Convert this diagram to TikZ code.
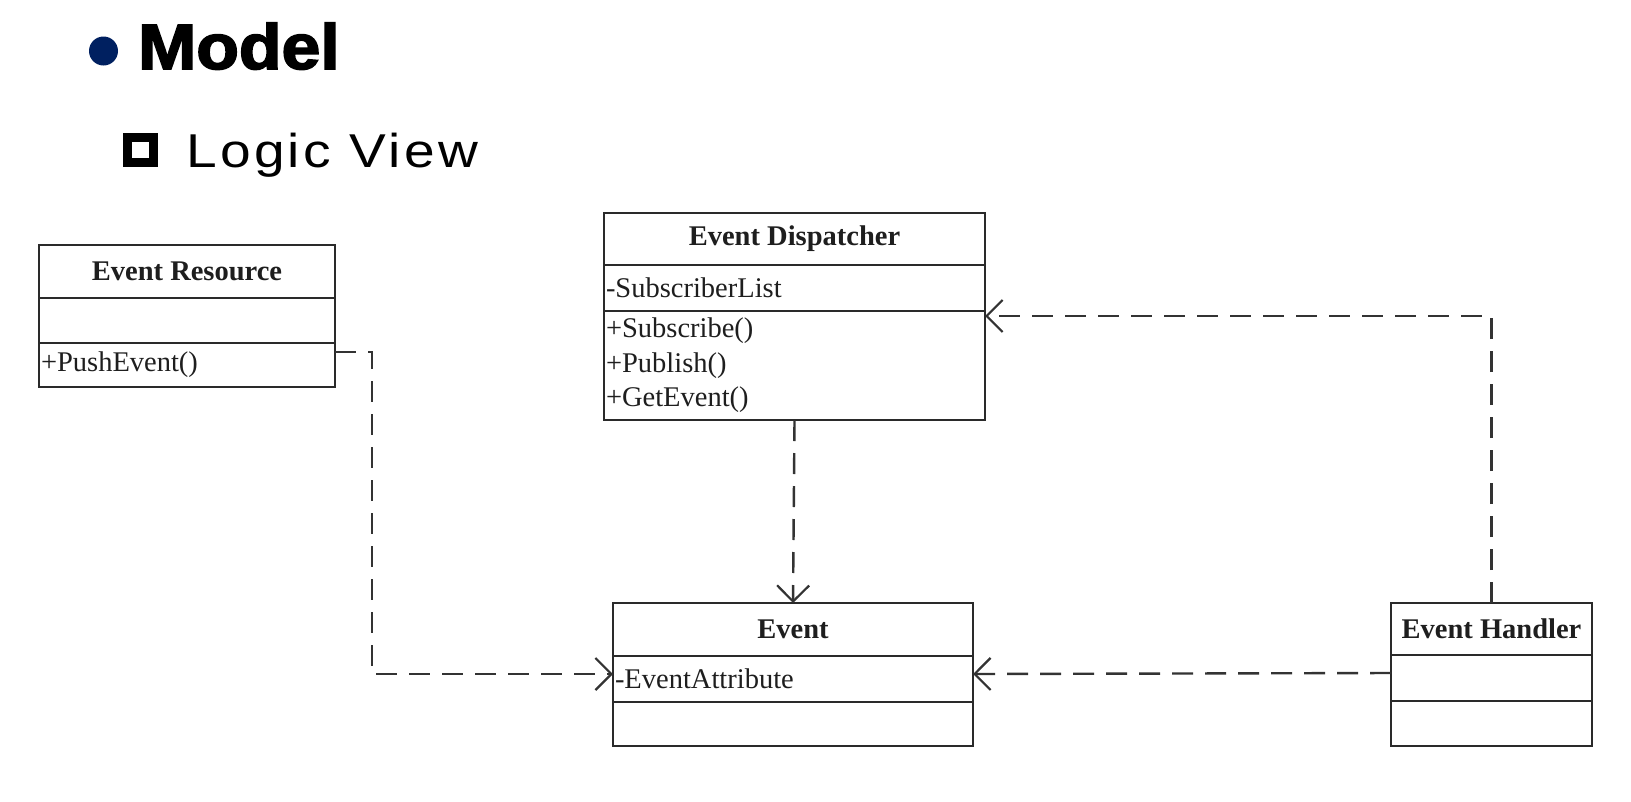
\documentclass[tikz,border=0pt]{standalone}
\usepackage{fontspec}
\setmainfont{Liberation Serif}
\newfontfamily\headfont[FakeBold=2.5]{Liberation Sans Bold}
\newfontfamily\subfont[LetterSpace=6]{Liberation Sans}
\usepackage{tikz}
\usetikzlibrary{arrows.meta,positioning,calc}

\definecolor{bulletblue}{HTML}{002060}
\definecolor{boxgray}{HTML}{2A2A2A}
\definecolor{txtgray}{HTML}{1E1E1E}
\definecolor{linegray}{HTML}{333333}

\begin{document}
\begin{tikzpicture}[x=1pt,y=-1pt,node distance=0pt,
    cname/.style={draw=boxgray,line width=2.8pt,inner sep=0pt,outer sep=0pt,
      text=txtgray,font=\fontsize{28.5}{30}\selectfont\bfseries},
    cpart/.style={draw=boxgray,line width=2.8pt,inner xsep=2pt,inner ysep=0pt,outer sep=0pt,
      align=left,text=txtgray,font=\fontsize{28.5}{34.5}\selectfont},
    dep/.style={draw=linegray,line width=2.4pt,dash pattern=on 21pt off 12pt,
      -{Straight Barb[length=16pt,width=32pt,line width=2.2pt]}}]
  \useasboundingbox (0,0) rectangle (1631,801);

  % heading
  \fill[bulletblue] (103.5,51) circle (14.5pt);
  \node[anchor=base west,inner sep=0pt] (model) at (138,69)
    {\scalebox{1.09}[1]{\headfont\fontsize{64}{70}\selectfont Model}};
  \draw[line width=8.5pt] (127.5,137.5) rectangle (153.5,162.5);
  \node[anchor=base west,inner sep=0pt] (logic) at (186,167)
    {\scalebox{1.16}[1]{\subfont\fontsize{47.5}{50}\selectfont Logic View}};

  % Event Resource
  \node[cname,minimum width=296pt,minimum height=53pt] (res) at (187,271.5) {Event Resource};
  \node[cpart,text width=292pt,minimum height=45pt,below=of res] (res-attr) {};
  \node[cpart,text width=292pt,minimum height=44pt,below=of res-attr] (res-ops) {+PushEvent()};

  % Event Dispatcher
  \node[cname,minimum width=381pt,minimum height=52pt] (disp) at (794.5,239) {Event Dispatcher};
  \node[cpart,text width=377pt,minimum height=46pt,below=of disp] (disp-attr) {-SubscriberList};
  \node[cpart,text width=377pt,minimum height=109pt,below=of disp-attr] (disp-ops)
    {+Subscribe()\\+Publish()\\+GetEvent()};

  % Event
  \node[cname,minimum width=360pt,minimum height=53pt] (ev) at (793,629.5) {Event};
  \node[cpart,text width=356pt,minimum height=46pt,below=of ev] (ev-attr) {-EventAttribute};
  \node[cpart,text width=356pt,minimum height=44pt,below=of ev-attr] (ev-ops) {};

  % Event Handler
  \node[cname,minimum width=201pt,minimum height=52pt] (hdl) at (1491.5,629) {Event Handler};
  \node[cpart,text width=197pt,minimum height=46pt,below=of hdl] (hdl-attr) {};
  \node[cpart,text width=197pt,minimum height=45pt,below=of hdl-attr] (hdl-ops) {};

  % dependencies
  \coordinate (c1) at ([yshift=13pt]res-ops.east);
  \coordinate (c2) at ([yshift=5pt]ev-attr.west);
  \draw[dep] (c1) -- ($(c1)+(37,0)$) |- (c2);
  \draw[dep] (disp-ops.south) -- (ev.north);
  \draw[dep] (hdl.north) |- ([yshift=-5pt]disp-ops.north east);
  \draw[dep] ([yshift=5pt]hdl-attr.west) -- ([yshift=5pt]ev-attr.east);
\end{tikzpicture}
\end{document}
